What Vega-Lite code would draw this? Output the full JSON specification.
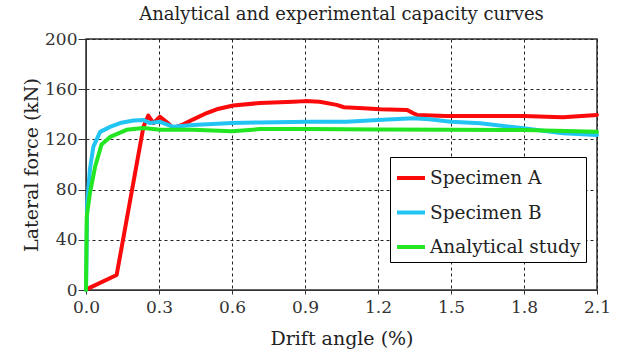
{
  "$schema": "https://vega.github.io/schema/vega-lite/v6.json",
  "autosize": {"type": "none"},
  "width": 511,
  "height": 251,
  "padding": {"left": 86, "top": 39, "right": 20, "bottom": 65},
  "background": "white",
  "config": {
    "font": "DejaVu Serif",
    "view": {"stroke": "#333", "strokeWidth": 1.5}
  },
  "title": {
    "text": "Analytical and experimental capacity curves",
    "fontSize": 18,
    "fontWeight": "normal",
    "font": "DejaVu Serif",
    "color": "#222",
    "offset": 6
  },
  "data": {
    "values": [
      {"s": "Specimen A", "x": 0.01, "y": 1.3},
      {"s": "Specimen A", "x": 0.126, "y": 12},
      {"s": "Specimen A", "x": 0.236, "y": 130},
      {"s": "Specimen A", "x": 0.256, "y": 139},
      {"s": "Specimen A", "x": 0.277, "y": 133},
      {"s": "Specimen A", "x": 0.304, "y": 138},
      {"s": "Specimen A", "x": 0.33, "y": 134},
      {"s": "Specimen A", "x": 0.359, "y": 129},
      {"s": "Specimen A", "x": 0.4, "y": 132},
      {"s": "Specimen A", "x": 0.441, "y": 136},
      {"s": "Specimen A", "x": 0.496, "y": 141},
      {"s": "Specimen A", "x": 0.537, "y": 144},
      {"s": "Specimen A", "x": 0.605, "y": 147},
      {"s": "Specimen A", "x": 0.715, "y": 149},
      {"s": "Specimen A", "x": 0.852, "y": 150},
      {"s": "Specimen A", "x": 0.9, "y": 150.5},
      {"s": "Specimen A", "x": 0.96, "y": 150},
      {"s": "Specimen A", "x": 1.03, "y": 147.5},
      {"s": "Specimen A", "x": 1.06, "y": 145.6},
      {"s": "Specimen A", "x": 1.14, "y": 144.8},
      {"s": "Specimen A", "x": 1.21, "y": 144},
      {"s": "Specimen A", "x": 1.32, "y": 143.5},
      {"s": "Specimen A", "x": 1.345, "y": 140.8},
      {"s": "Specimen A", "x": 1.36, "y": 139.5},
      {"s": "Specimen A", "x": 1.48, "y": 138.7},
      {"s": "Specimen A", "x": 1.62, "y": 138.7},
      {"s": "Specimen A", "x": 1.8, "y": 138.7},
      {"s": "Specimen A", "x": 1.89, "y": 138},
      {"s": "Specimen A", "x": 1.96, "y": 137.6},
      {"s": "Specimen A", "x": 2.1, "y": 139.5},
      {"s": "Specimen B", "x": 0.0, "y": 0},
      {"s": "Specimen B", "x": 0.005, "y": 69},
      {"s": "Specimen B", "x": 0.016, "y": 96},
      {"s": "Specimen B", "x": 0.03, "y": 114},
      {"s": "Specimen B", "x": 0.058, "y": 126},
      {"s": "Specimen B", "x": 0.099, "y": 130},
      {"s": "Specimen B", "x": 0.14, "y": 133},
      {"s": "Specimen B", "x": 0.195, "y": 135},
      {"s": "Specimen B", "x": 0.236, "y": 135.5},
      {"s": "Specimen B", "x": 0.263, "y": 133},
      {"s": "Specimen B", "x": 0.304, "y": 134},
      {"s": "Specimen B", "x": 0.359, "y": 130},
      {"s": "Specimen B", "x": 0.44, "y": 131.5},
      {"s": "Specimen B", "x": 0.6, "y": 133},
      {"s": "Specimen B", "x": 0.715, "y": 133.5},
      {"s": "Specimen B", "x": 0.91, "y": 134},
      {"s": "Specimen B", "x": 1.07, "y": 134},
      {"s": "Specimen B", "x": 1.2, "y": 135.5},
      {"s": "Specimen B", "x": 1.345, "y": 136.8},
      {"s": "Specimen B", "x": 1.41, "y": 136},
      {"s": "Specimen B", "x": 1.5, "y": 134},
      {"s": "Specimen B", "x": 1.62, "y": 132.8},
      {"s": "Specimen B", "x": 1.8, "y": 128.8},
      {"s": "Specimen B", "x": 1.96, "y": 124.8},
      {"s": "Specimen B", "x": 2.1, "y": 123.5},
      {"s": "Analytical study", "x": 0.0, "y": 0},
      {"s": "Analytical study", "x": 0.003, "y": 58.5},
      {"s": "Analytical study", "x": 0.016, "y": 77},
      {"s": "Analytical study", "x": 0.037, "y": 98},
      {"s": "Analytical study", "x": 0.064, "y": 116},
      {"s": "Analytical study", "x": 0.099, "y": 122},
      {"s": "Analytical study", "x": 0.167, "y": 127.6},
      {"s": "Analytical study", "x": 0.236, "y": 129},
      {"s": "Analytical study", "x": 0.304, "y": 127.6},
      {"s": "Analytical study", "x": 0.44, "y": 127.6},
      {"s": "Analytical study", "x": 0.6, "y": 126.5},
      {"s": "Analytical study", "x": 0.715, "y": 128.2},
      {"s": "Analytical study", "x": 0.91, "y": 128.2},
      {"s": "Analytical study", "x": 1.2, "y": 127.8},
      {"s": "Analytical study", "x": 1.5, "y": 127.6},
      {"s": "Analytical study", "x": 1.8, "y": 127.4},
      {"s": "Analytical study", "x": 2.1, "y": 126}
    ]
  },
  "mark": {"type": "line", "strokeWidth": 4, "strokeJoin": "round", "strokeCap": "round"},
  "encoding": {
    "x": {
      "field": "x",
      "type": "quantitative",
      "scale": {"domain": [0, 2.1], "nice": false, "zero": false},
      "axis": {
        "title": "Drift angle (%)",
        "values": [0, 0.3, 0.6, 0.9, 1.2, 1.5, 1.8, 2.1],
        "format": ".1f",
        "grid": true,
        "gridColor": "#222",
        "gridDash": [3, 3],
        "gridOpacity": 1,
        "gridWidth": 1,
        "domainColor": "#333",
        "tickColor": "#333",
        "tickSize": 4,
        "labelFontSize": 17,
        "labelColor": "#333",
        "labelPadding": 5,
        "labelFlush": false,
        "titleFontSize": 19,
        "titleFontWeight": "normal",
        "titleColor": "#222",
        "titlePadding": 14
      }
    },
    "y": {
      "field": "y",
      "type": "quantitative",
      "scale": {"domain": [0, 200], "nice": false},
      "axis": {
        "title": "Lateral force (kN)",
        "values": [0, 40, 80, 120, 160, 200],
        "grid": true,
        "gridColor": "#222",
        "gridDash": [3, 3],
        "gridOpacity": 1,
        "gridWidth": 1,
        "domainColor": "#333",
        "tickColor": "#333",
        "tickSize": 8,
        "labelFontSize": 17,
        "labelColor": "#333",
        "labelPadding": 1,
        "labelFlush": false,
        "titleFontSize": 19,
        "titleFontWeight": "normal",
        "titleColor": "#222",
        "titlePadding": 3
      }
    },
    "color": {
      "field": "s",
      "type": "nominal",
      "sort": ["Specimen A", "Specimen B", "Analytical study"],
      "scale": {
        "domain": ["Specimen A", "Specimen B", "Analytical study"],
        "range": ["#fa0a0a", "#22c4f4", "#22e622"]
      },
      "legend": {
        "title": null,
        "orient": "none",
        "legendX": 304,
        "legendY": 118,
        "direction": "vertical",
        "fillColor": "white",
        "strokeColor": "black",
        "padding": 5,
        "rowPadding": 8.5,
        "labelFontSize": 18.5,
        "labelColor": "#222",
        "labelOffset": 3,
        "symbolType": "stroke",
        "symbolStrokeWidth": 4,
        "symbolSize": 784
      }
    }
  }
}
